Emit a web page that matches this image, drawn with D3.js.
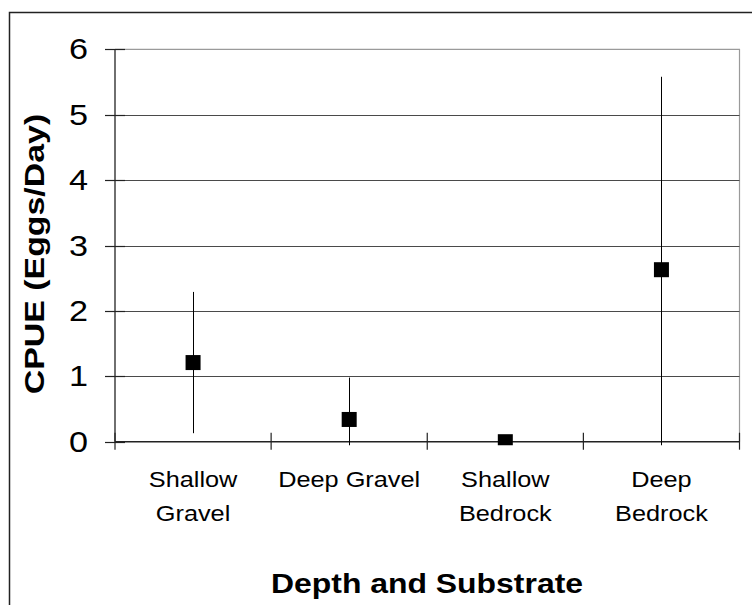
<!DOCTYPE html>
<html>
<head>
<meta charset="utf-8">
<script src="https://cdn.jsdelivr.net/npm/d3@7"></script>
<style>
  body { margin: 0; background: #fff; }
  text { font-family: Arial, "Liberation Sans", sans-serif; fill: #000; }
</style>
</head>
<body>
<div id="chart"></div>
<script>
// data
var categories = ["Shallow Gravel", "Deep Gravel", "Shallow Bedrock", "Deep Bedrock"];
var catLines = [["Shallow", "Gravel"], ["Deep Gravel"], ["Shallow", "Bedrock"], ["Deep", "Bedrock"]];
var cpue = [1.21, 0.34, 0.0, 2.63];
var cpueErr = [1.08, 0.64, 0.0, 2.95];
var yTicks = [0, 1, 2, 3, 4, 5, 6];

var W = 752, H = 605;
var plot = {left: 115, right: 739.5, top: 49.3, bottom: 441.7};

var svg = d3.select("#chart")
  .append("svg")
    .attr("width", W)
    .attr("height", H);

// outer frame (runs off the right and bottom)
svg.append("rect")
  .attr("x", 9.5).attr("y", 12.5)
  .attr("width", 780).attr("height", 620)
  .attr("fill", "none")
  .attr("stroke", "#222")
  .attr("stroke-width", 1.5);

var x = d3.scaleBand()
  .domain(categories)
  .range([plot.left, plot.right])
  .padding(0);

var y = d3.scaleLinear()
  .domain([0, 6])
  .range([plot.bottom, plot.top]);

// plot area border (grey top and right)
svg.append("path")
  .attr("d", "M" + plot.left + "," + plot.top + "H" + plot.right + "V" + plot.bottom)
  .attr("fill", "none")
  .attr("stroke", "#9a9a9a")
  .attr("stroke-width", 1.2);

// gridlines
svg.append("g")
  .selectAll("line")
  .data(yTicks.filter(function(d) { return d > 0 && d < 6; }))
  .enter()
  .append("line")
    .attr("x1", plot.left).attr("x2", plot.right)
    .attr("y1", function(d) { return Math.round(y(d)) + 0.5; })
    .attr("y2", function(d) { return Math.round(y(d)) + 0.5; })
    .attr("stroke", "#4a4a4a")
    .attr("stroke-width", 1);

// y axis line + cross ticks
svg.append("line")
  .attr("x1", plot.left).attr("x2", plot.left)
  .attr("y1", plot.top).attr("y2", plot.bottom)
  .attr("stroke", "#222").attr("stroke-width", 1.3);

svg.append("g")
  .selectAll("line")
  .data(yTicks)
  .enter()
  .append("line")
    .attr("x1", plot.left - 10).attr("x2", plot.left + 10)
    .attr("y1", function(d) { return Math.round(y(d)) + 0.5; })
    .attr("y2", function(d) { return Math.round(y(d)) + 0.5; })
    .attr("stroke", "#222").attr("stroke-width", 1.2);

svg.append("g")
  .selectAll("text")
  .data(yTicks)
  .enter()
  .append("text")
    .attr("transform", function(d) { return "translate(88," + (y(d) + 10) + ") scale(1.18,1)"; })
    .attr("text-anchor", "end")
    .style("font-size", "29px")
    .text(function(d) { return d; });

// x axis line + cross ticks at category boundaries
svg.append("line")
  .attr("x1", plot.left).attr("x2", plot.right)
  .attr("y1", plot.bottom).attr("y2", plot.bottom)
  .attr("stroke", "#222").attr("stroke-width", 1.5);

var bounds = d3.range(categories.length + 1).map(function(i) {
  return x.range()[0] + i * x.bandwidth();
});
svg.append("g")
  .selectAll("line")
  .data(bounds)
  .enter()
  .append("line")
    .attr("x1", function(d) { return d; }).attr("x2", function(d) { return d; })
    .attr("y1", plot.bottom - 9).attr("y2", plot.bottom + 8)
    .attr("stroke", "#222").attr("stroke-width", 1.2);

// category labels
var lab = svg.append("g")
  .selectAll("g")
  .data(categories)
  .enter()
  .append("g");
lab.selectAll("text")
  .data(function(d, i) {
    return catLines[i].map(function(t, j) { return {c: d, t: t, j: j}; });
  })
  .enter()
  .append("text")
    .attr("transform", function(d) {
      return "translate(" + (x(d.c) + x.bandwidth() / 2) + "," + (486.7 + d.j * 34.3) + ") scale(1.15,1)";
    })
    .attr("text-anchor", "middle")
    .style("font-size", "22px")
    .text(function(d) { return d.t; });

// error bars and markers, clipped to plot area
svg.append("clipPath")
  .attr("id", "plotclip")
  .append("rect")
    .attr("x", plot.left).attr("y", plot.top)
    .attr("width", plot.right - plot.left)
    .attr("height", plot.bottom - plot.top + 3.5);

var idx = d3.range(categories.length);

var marks = svg.append("g")
  .attr("clip-path", "url(#plotclip)");

marks.selectAll("line")
  .data(idx.filter(function(i) { return cpueErr[i] > 0; }))
  .enter()
  .append("line")
    .attr("x1", function(i) { return Math.round(x(categories[i]) + x.bandwidth() / 2) + 0.5; })
    .attr("x2", function(i) { return Math.round(x(categories[i]) + x.bandwidth() / 2) + 0.5; })
    .attr("y1", function(i) { return y(cpue[i] + cpueErr[i]); })
    .attr("y2", function(i) { return y(cpue[i] - cpueErr[i]); })
    .attr("stroke", "#000")
    .attr("stroke-width", 1);

marks.selectAll("rect")
  .data(idx)
  .enter()
  .append("rect")
    .attr("x", function(i) { return x(categories[i]) + x.bandwidth() / 2 - 7.5; })
    .attr("y", function(i) { return y(cpue[i]) - 7.5; })
    .attr("width", 15).attr("height", 15)
    .attr("fill", "#000");

// axis titles
svg.append("text")
  .attr("transform", "translate(43.5,254) rotate(-90) scale(1.21,1)")
  .attr("text-anchor", "middle")
  .style("font-size", "28px")
  .style("font-weight", "bold")
  .text("CPUE (Eggs/Day)");

svg.append("text")
  .attr("transform", "translate(427,593.3) scale(1.14,1)")
  .attr("text-anchor", "middle")
  .style("font-size", "28px")
  .style("font-weight", "bold")
  .text("Depth and Substrate");
</script>
</body>
</html>
